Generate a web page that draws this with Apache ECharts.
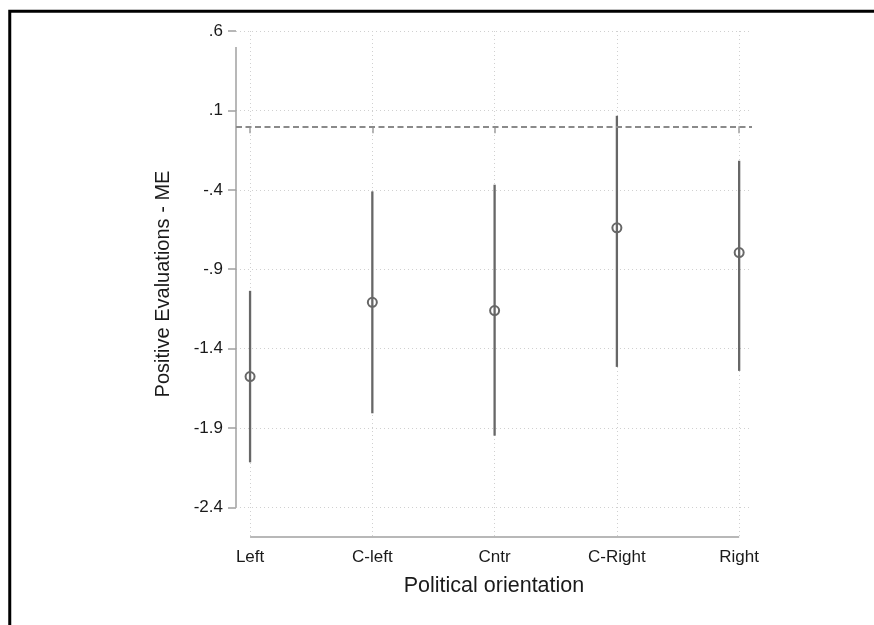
<!DOCTYPE html>
<html>
<head>
<meta charset="utf-8">
<script src="https://cdn.jsdelivr.net/npm/echarts@6/dist/echarts.min.js"></script>
<style>
html,body{margin:0;padding:0;background:#fff;}
#chart{width:874px;height:625px;}
</style>
</head>
<body>
<div id="chart"></div>
<script>
// ---- data ----
const categories = ['Left', 'C-left', 'Cntr', 'C-Right', 'Right'];
const categoryPos = [1, 2, 3, 4, 5];
const estimates = [-1.576, -1.108, -1.160, -0.639, -0.795];
const ciLower = [-2.116, -1.807, -1.948, -1.515, -1.540];
const ciUpper = [-1.036, -0.410, -0.368, 0.066, -0.217];
const refLineValue = 0;
const yTickValues = [-2.4, -1.9, -1.4, -0.9, -0.4, 0.1, 0.6];
const yTickLabels = ['-2.4', '-1.9', '-1.4', '-.9', '-.4', '.1', '.6'];
const xRange = [0.885, 5.105];
const yRange = [-2.586, 0.6];
const yAxisLineExtent = [-2.4, 0.5];

const FONT = '"Liberation Sans", Arial, Helvetica, sans-serif';
const GRAY = '#676767';

const chart = echarts.init(document.getElementById('chart'), null, {renderer: 'canvas'});

const pointData = categoryPos.map((x, i) => [x, estimates[i]]);
const ciData = categoryPos.map((x, i) => [x, ciLower[i], ciUpper[i]]);

const option = {
  animation: false,
  backgroundColor: '#fff',
  graphic: [{
    type: 'rect',
    shape: {x: 9.75, y: 11.25, width: 2000, height: 2000},
    style: {fill: 'none', stroke: '#000', lineWidth: 3},
    silent: true
  }],
  grid: {left: 236, top: 31, width: 516, height: 506, containLabel: false},
  xAxis: {
    type: 'value',
    min: xRange[0],
    max: xRange[1],
    axisLine: {show: false},
    axisTick: {show: true, length: 7, customValues: categoryPos, lineStyle: {color: '#a0a0a0', width: 1.5}},
    axisLabel: {
      customValues: categoryPos,
      formatter: v => categories[Math.round(v) - 1],
      color: '#1a1a1a', fontSize: 17, fontFamily: FONT, margin: 12
    },
    splitLine: {show: true, lineStyle: {color: '#d0d0d0', width: 1, type: [1, 3]}},
    name: 'Political orientation',
    nameLocation: 'middle',
    nameGap: 38,
    nameTextStyle: {color: '#1a1a1a', fontSize: 21.5, fontFamily: FONT}
  },
  yAxis: {
    type: 'value',
    min: yRange[0],
    max: yRange[1],
    axisLine: {show: false},
    axisTick: {show: true, length: 8, customValues: yTickValues, lineStyle: {color: '#a0a0a0', width: 1.5}},
    axisLabel: {
      customValues: yTickValues,
      formatter: v => {
        const idx = yTickValues.findIndex(t => Math.abs(t - v) < 1e-6);
        return idx >= 0 ? yTickLabels[idx] : '';
      },
      color: '#1a1a1a', fontSize: 17, fontFamily: FONT, margin: 13
    },
    splitLine: {show: true, lineStyle: {color: '#d0d0d0', width: 1, type: [1, 3]}},
    name: 'Positive Evaluations - ME',
    nameLocation: 'middle',
    nameGap: 63,
    nameRotate: 90,
    nameTextStyle: {color: '#1a1a1a', fontSize: 20, fontFamily: FONT}
  },
  series: [
    {
      // axis lines (Stata-style, detached)
      type: 'line',
      data: [],
      silent: true,
      markLine: {
        silent: true,
        symbol: 'none',
        label: {show: false},
        lineStyle: {color: '#a0a0a0', width: 1.5, type: 'solid'},
        data: [
          [{coord: [xRange[0], yAxisLineExtent[0]]}, {coord: [xRange[0], yAxisLineExtent[1]]}],
          [{coord: [categoryPos[0], yRange[0]]}, {coord: [categoryPos[categoryPos.length - 1], yRange[0]]}]
        ]
      }
    },
    {
      // reference line at zero
      type: 'line',
      data: [],
      silent: true,
      markLine: {
        silent: true,
        symbol: 'none',
        label: {show: false},
        lineStyle: {color: '#8a8a8a', width: 2, type: [6, 3.5]},
        data: [{yAxis: refLineValue}]
      }
    },
    {
      type: 'custom',
      data: ciData,
      encode: {x: 0, y: [1, 2]},
      renderItem: function (params, api) {
        const p1 = api.coord([api.value(0), api.value(1)]);
        const p2 = api.coord([api.value(0), api.value(2)]);
        return {
          type: 'line',
          shape: {x1: p1[0], y1: p1[1], x2: p2[0], y2: p2[1]},
          style: {stroke: GRAY, lineWidth: 2.3}
        };
      },
      z: 3
    },
    {
      type: 'scatter',
      data: pointData,
      symbol: 'circle',
      symbolSize: 9,
      itemStyle: {color: 'rgba(0,0,0,0)', borderColor: GRAY, borderWidth: 2, opacity: 1},
      z: 4
    }
  ]
};
chart.setOption(option);
</script>
</body>
</html>
